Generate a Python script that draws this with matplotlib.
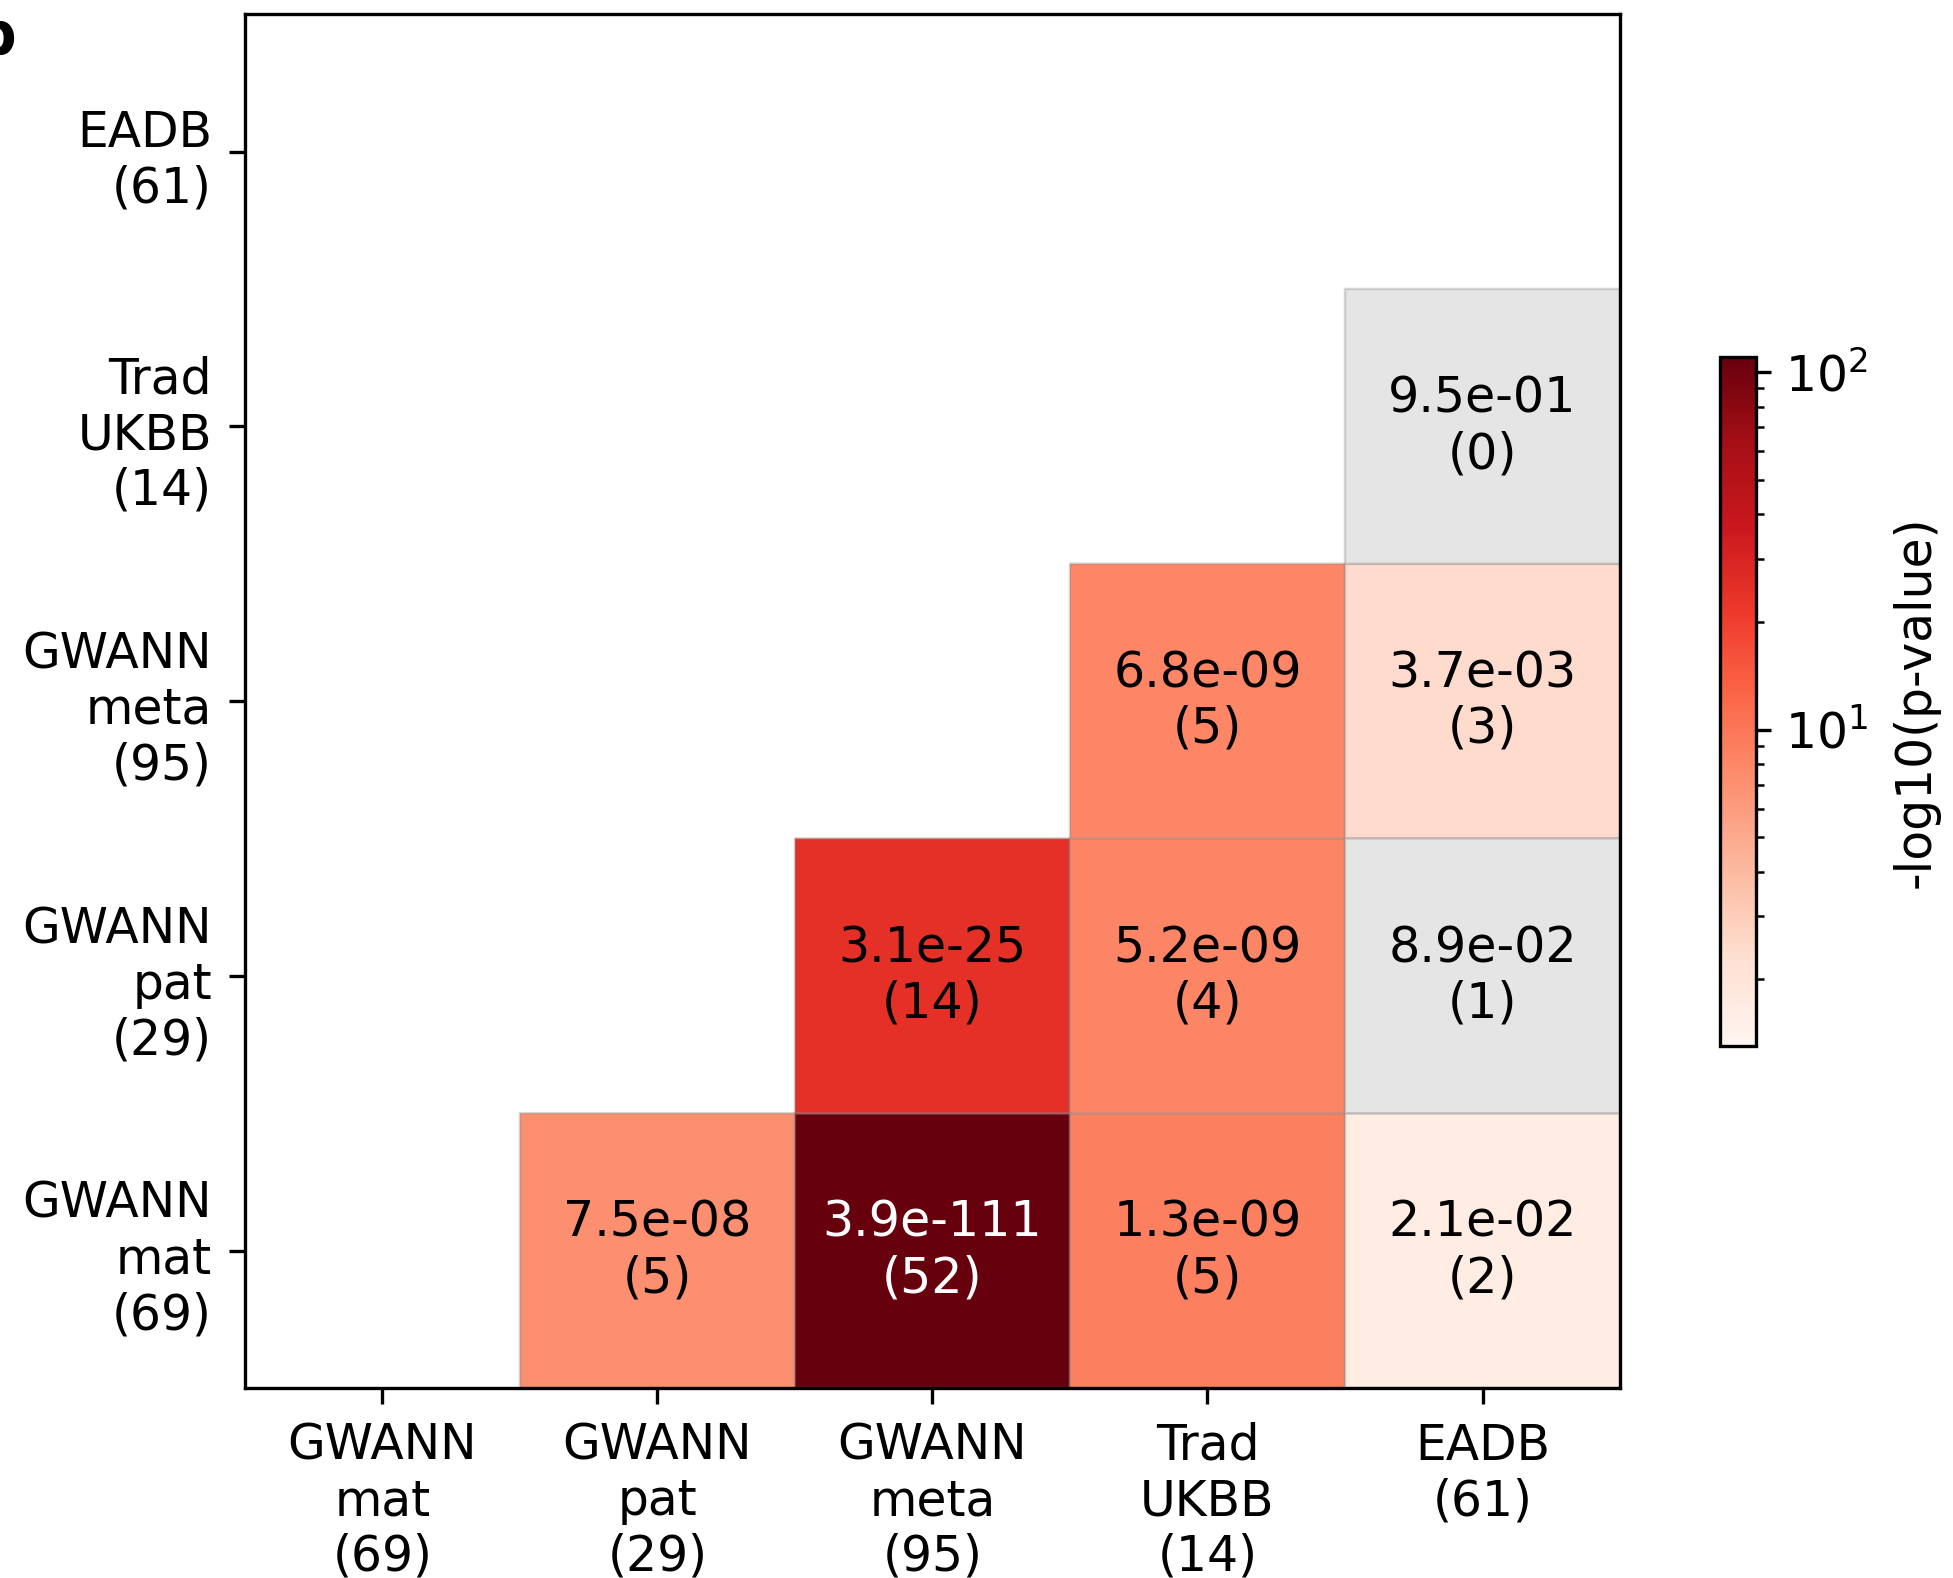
import numpy as np
import matplotlib
matplotlib.use("Agg")
import matplotlib.pyplot as plt
from matplotlib.colors import LogNorm, ListedColormap

# Sets compared (gene counts in parentheses)
labels = ["GWANN\nmat\n(69)", "GWANN\npat\n(29)", "GWANN\nmeta\n(95)",
          "Trad\nUKBB\n(14)", "EADB\n(61)"]

# Overlap p-values (row set, column set) and overlapping gene counts
pair_rows = [0, 0, 0, 0, 1, 1, 1, 2, 2, 3]
pair_cols = [1, 2, 3, 4, 2, 3, 4, 3, 4, 4]
pvalues = [7.5e-08, 3.9e-111, 1.3e-09, 2.1e-02,
           3.1e-25, 5.2e-09, 8.9e-02,
           6.8e-09, 3.7e-03,
           9.5e-01]
overlaps = [5, 52, 5, 2,
            14, 4, 1,
            5, 3,
            0]

alpha_level = 0.05

n = len(labels)
logp = np.full((n, n), np.nan)
pmat = np.full((n, n), np.nan)
for r, c, p in zip(pair_rows, pair_cols, pvalues):
    logp[r, c] = -np.log10(p)
    pmat[r, c] = p

sig = np.ma.masked_where(~(pmat <= alpha_level), logp)
nonsig = np.ma.masked_where(~(pmat > alpha_level), np.ones_like(logp))

fig = plt.figure(figsize=(1953 / 300, 1578 / 300), dpi=300)
ax = fig.add_axes([0.1254, 0.1204, 0.7041, 0.8706])
cax = fig.add_axes([0.8807, 0.337, 0.0184, 0.437])

norm = LogNorm(vmin=-np.log10(alpha_level), vmax=np.nanmax(logp))
edge = (0.55, 0.55, 0.55, 0.35)
xe = np.arange(n + 1) - 0.5
mesh = ax.pcolor(xe, xe, sig, cmap="Reds", norm=norm,
                 edgecolors=edge, linewidth=0.6)
ax.pcolor(xe, xe, nonsig, cmap=ListedColormap(["#e5e5e5"]),
          vmin=0, vmax=2, edgecolors=edge, linewidth=0.6)

for r, c, p, k in zip(pair_rows, pair_cols, pvalues, overlaps):
    color = "white" if -np.log10(p) > 50 else "black"
    ax.text(c, r, f"{p:.1e}\n({k})", ha="center", va="center",
            fontsize=11.8, color=color, linespacing=1.2)

ax.set_xlim(-0.5, n - 0.5)
ax.set_ylim(-0.5, n - 0.5)
ax.set_xticks(range(n))
ax.set_yticks(range(n))
ax.set_xticklabels(labels, fontsize=11.7)
ax.set_yticklabels(labels, fontsize=11.7)
ax.tick_params(axis="x", length=3.8, width=0.8, pad=4.3)
ax.tick_params(axis="y", length=3.8, width=0.8, pad=4.1)
for s in ax.spines.values():
    s.set_linewidth(0.8)

cb = fig.colorbar(mesh, cax=cax)
cb.outline.set_linewidth(0.8)
cb.ax.tick_params(labelsize=11.7)
cb.set_label("-log10(p-value)", fontsize=11.7, labelpad=5.5)

fig.text(-0.0135, 0.994, "b", fontsize=14, fontweight="bold",
         ha="left", va="top")

fig.savefig("out.png", dpi=300)
